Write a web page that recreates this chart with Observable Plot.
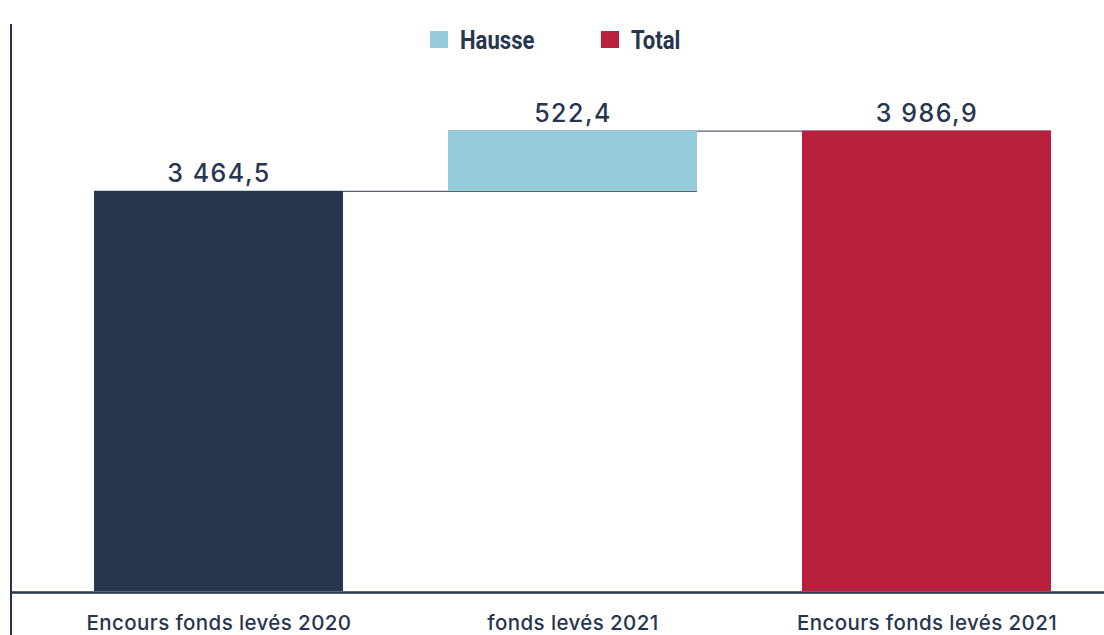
<!DOCTYPE html>
<html>
<head>
<meta charset="utf-8">
<script src="https://cdn.jsdelivr.net/npm/d3@7"></script>
<script src="https://cdn.jsdelivr.net/npm/@observablehq/plot@0.6"></script>
<style>
html, body { margin: 0; padding: 0; background: #ffffff; }
#wrap { position: relative; width: 1104px; height: 635px; overflow: hidden; background: #fff; }
#axisline { position: absolute; left: 10px; top: 24px; width: 2px; height: 611px; background: #27354f; }
#legend { position: relative; height: 70px; font-family: Roboto, "Noto Sans", sans-serif; font-weight: bold; font-size: 26px; color: #27354f; }
.item { position: absolute; top: 24px; height: 31px; display: flex; align-items: center; gap: 12px; }
.sw { width: 18px; height: 17px; display: inline-block; flex: none; }
.lt { display: inline-block; transform: scaleX(0.85); transform-origin: left center; }
</style>
</head>
<body>
<div id="wrap">
  <div id="legend"></div>
  <div id="chart"></div>
  <div id="axisline"></div>
</div>
<script>
// ---- data ----
const categories = ["Encours fonds levés 2020", "fonds levés 2021", "Encours fonds levés 2021"];
const values = [3464.5, 522.4, 3986.9];
const kinds = ["initial", "Hausse", "Total"];
const legendItems = ["Hausse", "Total"];

// ---- styles ----
const colorDomain = ["initial", "Hausse", "Total"];
const colorRange = ["#27354f", "#94cdd9", "#b8203e"];
const navy = "#27354f";

// waterfall rows
let running = 0;
const rows = categories.map((c, i) => {
  let start, end;
  if (kinds[i] === "Hausse") { start = running; end = running + values[i]; }
  else { start = 0; end = values[i]; }
  running = end;
  return { cat: c, kind: kinds[i], value: values[i], start, end };
});
const connectors = rows.slice(0, -1).map((r, i) => ({ from: r.cat, to: rows[i + 1].cat, level: r.end }));

const fmt = d3.formatLocale({ decimal: ",", thousands: " ", grouping: [3], currency: ["", "€"] }).format(",.1f");

// legend
const legend = document.getElementById("legend");
const legendLeft = { Hausse: 430, Total: 601 };
legendItems.forEach(k => {
  const it = document.createElement("div");
  it.className = "item";
  it.style.left = legendLeft[k] + "px";
  const sw = document.createElement("span");
  sw.className = "sw";
  sw.style.background = colorRange[colorDomain.indexOf(k)];
  const tx = document.createElement("span");
  tx.className = "lt";
  tx.textContent = k;
  it.appendChild(sw); it.appendChild(tx);
  legend.appendChild(it);
});

const plot = Plot.plot({
  width: 1104,
  height: 565,
  marginLeft: 12,
  marginRight: 0,
  marginTop: 0,
  marginBottom: 44,
  style: { fontFamily: "Inter, 'Noto Sans', sans-serif", fontSize: "20.5px", fontWeight: 500, color: navy, background: "#fff", letterSpacing: "0.4px" },
  x: { domain: categories, range: [93.5, 1051.5], paddingInner: 0.297, paddingOuter: 0, label: null },
  y: { domain: [0, 4500], range: [521, 1.4], axis: null },
  color: { domain: colorDomain, range: colorRange },
  marks: [
    Plot.ruleY(connectors, { x1: "from", x2: "to", y: "level", stroke: "#5a6274", strokeWidth: 1.2 }),
    Plot.barY(rows, { x: "cat", y1: "start", y2: "end", fill: "kind", inset: 0 }),
    Plot.text(rows, { x: "cat", y: "end", text: d => fmt(d.value), lineAnchor: "bottom", dy: -9, fontSize: 25, fontWeight: 500, fill: navy }),
    Plot.ruleY([0], { stroke: navy, strokeWidth: 2.5, dy: 1 }),
    Plot.axisX({ tickSize: 0, tickPadding: 24, label: null, fill: navy })
  ]
});
document.getElementById("chart").appendChild(plot);
// wider spacing for value labels, as in the reference
plot.querySelectorAll("g[aria-label='text'] text").forEach(t => t.setAttribute("letter-spacing", "1.5px"));
</script>
</body>
</html>
